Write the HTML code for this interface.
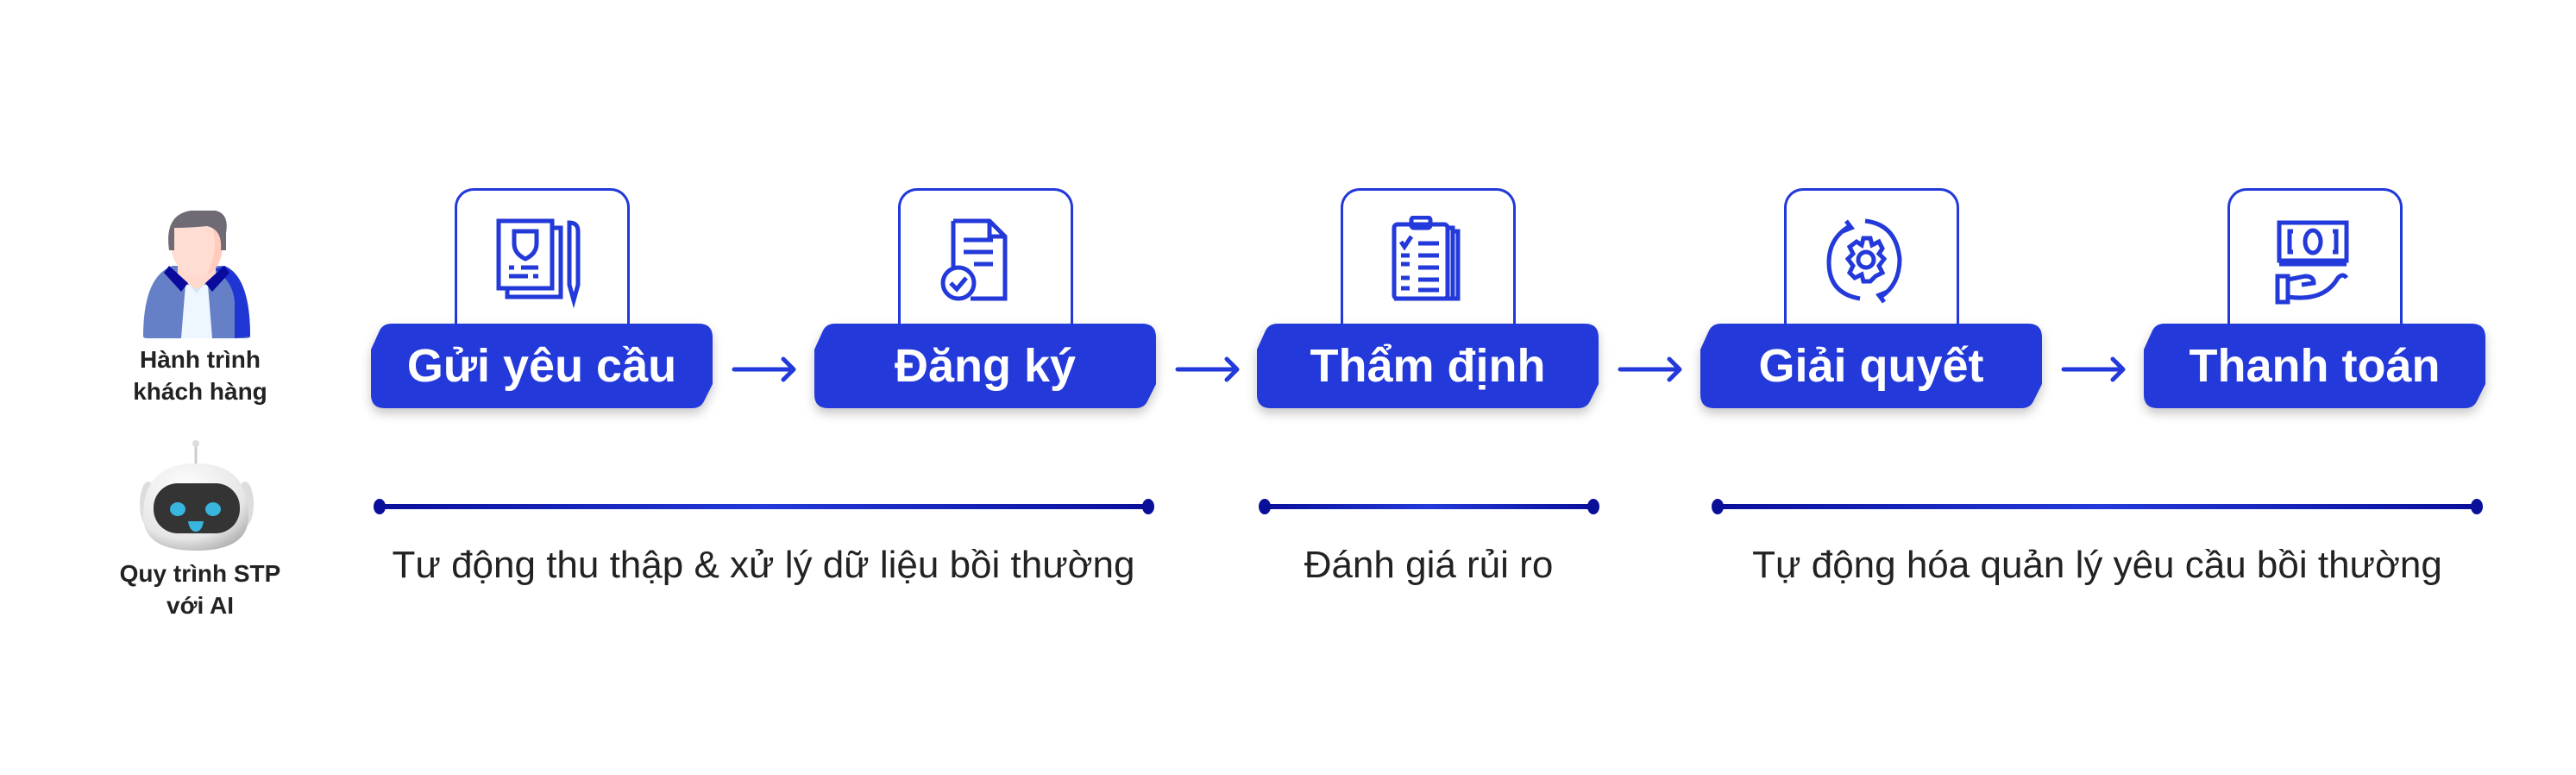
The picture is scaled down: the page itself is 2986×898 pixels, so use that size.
<!DOCTYPE html>
<html><head><meta charset="utf-8"><style>
html,body{margin:0;padding:0;background:#fff;}
#c{position:relative;width:2986px;height:898px;overflow:hidden;font-family:"Liberation Sans",sans-serif;}
.box{position:absolute;top:218px;width:197px;height:180px;border:3px solid #2339d9;border-bottom:none;border-radius:22px 22px 0 0;background:#fff;}
.pill{position:absolute;top:375px;width:396px;height:98px;}
.pill svg{position:absolute;left:0;top:0;filter:drop-shadow(0 6px 6px rgba(0,0,0,0.22));}
.pill span{position:absolute;left:0;top:0;width:396px;height:98px;line-height:98px;text-align:center;color:#fff;font-weight:bold;font-size:54px;}
.lbl{position:absolute;color:#222;font-size:44px;text-align:center;white-space:nowrap;}
.side{position:absolute;left:132px;width:200px;text-align:center;color:#222;font-size:28px;font-weight:bold;line-height:37px;}
.ic{position:absolute;top:250px;}
</style></head><body><div id="c">

<svg style="position:absolute;left:160px;top:240px" width="140" height="156" viewBox="0 0 140 156">
<path d="M6 150 Q6 80 40 68 L100 68 Q130 80 130 150 Q130 152 124 152 L12 152 Q6 152 6 150Z" fill="#6680c8"/>
<path d="M100 68 Q130 80 130 150 L112 152 L112 110 Q110 85 88 72Z" fill="#2036d4"/>
<path d="M55 90 L81 90 L86 152 L50 152Z" fill="#eef7ff"/>
<path d="M58 88 L78 88 L68 100Z" fill="#cde9f7"/>
<path d="M46 55 L90 55 L90 80 L68 96 L46 80Z" fill="#ffd9cd"/>
<path d="M36 68 L58 88 L50 98 L30 76Z M100 68 L78 88 L86 98 L106 76Z" fill="#0a0a9c"/>
<ellipse cx="68" cy="42" rx="30" ry="38" fill="#ffddd2"/>
<path d="M80 10 Q98 40 80 78 Q98 70 98 42Z" fill="#ffcbbd"/>
<path d="M36 50 Q30 8 62 4 L90 4 Q106 8 102 30 L102 50 L96 50 Q98 26 80 22 Q60 24 42 24 L42 50Z" fill="#6f6a73"/>
</svg>
<div class="side" style="top:398px">Hành trình<br>khách hàng</div>

<svg style="position:absolute;left:160px;top:508px" width="140" height="134" viewBox="0 0 140 134">
<defs><radialGradient id="rg" cx="0.4" cy="0.3" r="0.8"><stop offset="0" stop-color="#ffffff"/><stop offset="0.7" stop-color="#e6e6e6"/><stop offset="1" stop-color="#a8a8a8"/></radialGradient></defs>
<line x1="67" y1="6" x2="67" y2="32" stroke="#ccc" stroke-width="3"/>
<circle cx="67" cy="6" r="4" fill="#ddd"/>
<ellipse cx="12" cy="76" rx="10" ry="26" fill="#ddd"/>
<ellipse cx="124" cy="76" rx="10" ry="26" fill="#ddd"/>
<path d="M67 29 Q128 29 128 90 Q128 130 67 130 Q6 130 6 90 Q6 29 67 29Z" fill="url(#rg)"/>
<rect x="18" y="52" width="100" height="58" rx="28" fill="#343434"/>
<ellipse cx="46" cy="82" rx="9" ry="8" fill="#38b6e0"/>
<ellipse cx="87" cy="82" rx="9" ry="8" fill="#38b6e0"/>
<path d="M58 96 L76 96 Q74 108 67 108 Q60 108 58 96Z" fill="#38b6e0"/>
</svg>
<div class="side" style="top:646px">Quy trình STP<br>với AI</div>

<div class="box" style="left:527px"></div>
<div class="box" style="left:1041px"></div>
<div class="box" style="left:1554px"></div>
<div class="box" style="left:2068px"></div>
<div class="box" style="left:2582px"></div>

<svg class="ic" style="left:570px" width="120" height="110" viewBox="0 0 120 110" fill="none" stroke="#2339d9" stroke-width="5">
<rect x="8" y="6" width="62" height="78"/><path d="M70 14 L80 14 L80 94 L18 94 L18 84"/>
<path d="M26 18 L52 18 L52 32 Q52 44 39 50 Q26 44 26 32Z"/>
<path d="M20 60 L26 60 M34 60 L54 60 M20 70 L42 70 M48 70 L54 70"/>
<path d="M90 8 Q100 8 100 18 L100 80 L95 98 L90 80Z"/>
</svg>
<svg class="ic" style="left:1085px" width="120" height="110" viewBox="0 0 120 110" fill="none" stroke="#2339d9" stroke-width="5">
<path d="M20 6 L62 6 L80 24 L80 96 L40 96 M20 60 L20 6"/><path d="M62 6 L62 24 L80 24"/>
<path d="M32 28 L66 28 M32 42 L66 42 M44 56 L66 56"/>
<circle cx="26" cy="78" r="18"/><path d="M17 78 L24 85 L35 72"/>
</svg>
<svg class="ic" style="left:1598px" width="120" height="110" viewBox="0 0 120 110" fill="none" stroke="#2339d9" stroke-width="5">
<rect x="18" y="10" width="62" height="86" rx="4"/><path d="M80 14 L86 14 L86 96 L18 96 M86 18 L92 18 L92 96 L86 96"/>
<rect x="38" y="2" width="22" height="12" rx="3"/>
<path d="M26 30 L30 36 L38 24 M46 32 L70 32 M26 46 L36 46 M46 46 L70 46 M26 56 L36 56 M46 60 L70 60 M26 72 L36 72 M46 74 L70 74 M26 84 L36 84 M46 86 L70 86"/>
</svg>
<svg class="ic" style="left:2110px" width="120" height="110" viewBox="0 0 120 110" fill="none" stroke="#2339d9" stroke-width="5">
<path d="M34 12 Q10 26 10 54 Q10 90 46 96 M52 6 Q88 10 92 50 Q92 80 70 94"/>
<path d="M30 6 L36 14 L26 18 M74 100 L68 92 L78 88"/>
<path d="M50 26 L58 26 L60 34 L68 30 L72 38 L68 44 L74 50 L68 58 L72 66 L64 70 L58 76 L50 76 L48 68 L40 72 L34 66 L38 58 L32 50 L38 44 L34 36 L42 30 L48 34Z"/>
<circle cx="53" cy="51" r="9"/>
</svg>
<svg class="ic" style="left:2624px" width="120" height="110" viewBox="0 0 120 110" fill="none" stroke="#2339d9" stroke-width="5">
<rect x="18" y="8" width="78" height="44"/><path d="M18 56 L96 56"/>
<ellipse cx="57" cy="30" rx="9" ry="13"/><path d="M34 18 L30 18 L30 42 L34 42 M80 18 L84 18 L84 42 L80 42"/>
<path d="M16 70 L28 70 L28 100 L16 100Z M28 74 L48 70 Q58 70 58 78 L44 80 M28 94 Q70 100 86 72 Q92 66 96 72"/>
</svg>

<div class="pill" style="left:430px"><svg width="396" height="98"><path d="M24,0 H380 Q396,0 396,16 V70 L386,90 Q382,98 372,98 H16 Q0,98 0,82 V30 L10,8 Q14,0 24,0Z" fill="#2339d9"/></svg><span>Gửi yêu cầu</span></div>
<div class="pill" style="left:944px"><svg width="396" height="98"><path d="M24,0 H380 Q396,0 396,16 V70 L386,90 Q382,98 372,98 H16 Q0,98 0,82 V30 L10,8 Q14,0 24,0Z" fill="#2339d9"/></svg><span>Đăng ký</span></div>
<div class="pill" style="left:1457px"><svg width="396" height="98"><path d="M24,0 H380 Q396,0 396,16 V70 L386,90 Q382,98 372,98 H16 Q0,98 0,82 V30 L10,8 Q14,0 24,0Z" fill="#2339d9"/></svg><span>Thẩm định</span></div>
<div class="pill" style="left:1971px"><svg width="396" height="98"><path d="M24,0 H380 Q396,0 396,16 V70 L386,90 Q382,98 372,98 H16 Q0,98 0,82 V30 L10,8 Q14,0 24,0Z" fill="#2339d9"/></svg><span>Giải quyết</span></div>
<div class="pill" style="left:2485px"><svg width="396" height="98"><path d="M24,0 H380 Q396,0 396,16 V70 L386,90 Q382,98 372,98 H16 Q0,98 0,82 V30 L10,8 Q14,0 24,0Z" fill="#2339d9"/></svg><span>Thanh toán</span></div>

<svg style="position:absolute;left:0;top:0" width="2986" height="898" fill="none">
<defs><linearGradient id="lg" x1="0" x2="1" y1="0" y2="0"><stop offset="0" stop-color="#0a0f9a"/><stop offset="0.5" stop-color="#2339d9"/><stop offset="1" stop-color="#0a0f9a"/></linearGradient></defs>
<g stroke="#2339d9" stroke-width="5" stroke-linecap="round" stroke-linejoin="round">
<path d="M851 428 H920 M908 416 L920 428 L908 440"/>
<path d="M1365 428 H1434 M1422 416 L1434 428 L1422 440"/>
<path d="M1878 428 H1947 M1935 416 L1947 428 L1935 440"/>
<path d="M2392 428 H2461 M2449 416 L2461 428 L2449 440"/>
</g>
<g fill="url(#lg)">
<rect x="440" y="584" width="891" height="6"/>
<rect x="1466" y="584" width="381" height="6"/>
<rect x="1991" y="584" width="880" height="6"/>
</g>
<g fill="#0a0f9a">
<ellipse cx="440" cy="587" rx="7" ry="9"/><ellipse cx="1331" cy="587" rx="7" ry="9"/>
<ellipse cx="1466" cy="587" rx="7" ry="9"/><ellipse cx="1847" cy="587" rx="7" ry="9"/>
<ellipse cx="1991" cy="587" rx="7" ry="9"/><ellipse cx="2871" cy="587" rx="7" ry="9"/>
</g>
</svg>

<div class="lbl" style="left:385px;width:1000px;top:630px">Tư động thu thập &amp; xử lý dữ liệu bồi thường</div>
<div class="lbl" style="left:1456px;width:400px;top:630px">Đánh giá rủi ro</div>
<div class="lbl" style="left:1931px;width:1000px;top:630px">Tự động hóa quản lý yêu cầu bồi thường</div>

</div></body></html>
